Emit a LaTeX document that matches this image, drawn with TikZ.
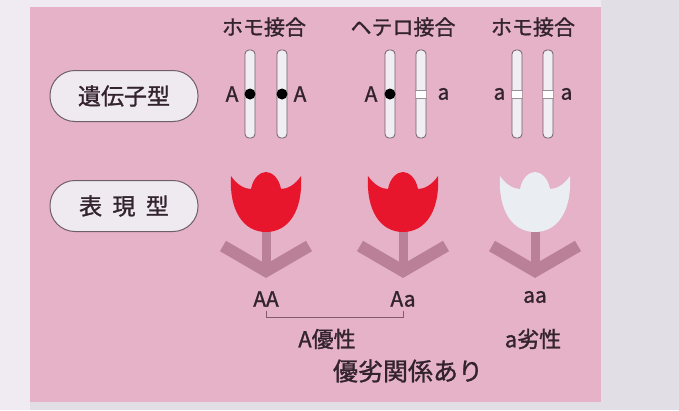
\documentclass[tikz,border=0pt]{standalone}
\usepackage{fontspec}
\setmainfont{Noto Sans CJK JP}[FakeBold=1.2]
\usetikzlibrary{positioning}

\definecolor{pagegrey}{RGB}{226,222,230}
\definecolor{sidewhite}{RGB}{240,235,242}
\definecolor{bgpink}{RGB}{229,178,200}
\definecolor{inkdark}{RGB}{50,35,45}
\definecolor{chromfill}{RGB}{240,238,242}
\definecolor{chromline}{RGB}{110,95,105}
\definecolor{tulipred}{RGB}{232,22,45}
\definecolor{tulipwhite}{RGB}{234,238,242}
\definecolor{stemmauve}{RGB}{186,128,152}
\definecolor{boxfill}{RGB}{238,234,240}

\begin{document}
\begin{tikzpicture}[x=1pt,y=-1pt,
  every node/.style={text=inkdark},
  head/.style={font=\fontsize{21}{21}\selectfont},
  allele/.style={font=\fontsize{21}{21}\selectfont,inner sep=1pt},
  tag/.style={draw=chromline,line width=1pt,fill=boxfill,rounded corners=25pt,
    minimum width=148pt,minimum height=51pt,font=\fontsize{23}{23}\selectfont},
  chrom/.style={draw=chromline,line width=0.8pt,fill=chromfill,rounded corners=4pt,
    minimum width=10pt,minimum height=88pt,inner sep=0pt},
  dom/.style={fill=black,circle,minimum size=11pt,inner sep=0pt},
  rec/.style={draw=chromline!70,line width=0.6pt},
  leaf/.style={draw=stemmauve,line width=12pt,line join=miter},
  bracket/.style={draw=stemmauve!70!black,line width=0.8pt}]

  % page and pink panel
  \fill[pagegrey] (0,0) rectangle (679,410);
  \fill[sidewhite] (0,0) rectangle (30,410);
  \fill[sidewhite] (30,0) rectangle (601,7);
  \fill[bgpink] (30,7) rectangle (601,402);

  % column heads
  \node[head] (homoL)  at (264,27) {ホモ接合};
  \node[head] (hetero) at (403,27) {ヘテロ接合};
  \node[head] (homoR)  at (533,27) {ホモ接合};

  % row tags
  \node[tag] (genotype)  at (124,96)  {遺伝子型};
  \node[tag] (phenotype) at (124,206) {表\hspace{0.45em}現\hspace{0.45em}型};

  % chromosome pairs
  \node[chrom] (c1) at (250,94) {};
  \node[chrom] (c2) at (282,94) {};
  \node[chrom] (c3) at (390,94) {};
  \node[chrom] (c4) at (421,94) {};
  \node[chrom] (c5) at (517,94) {};
  \node[chrom] (c6) at (548,94) {};

  % dominant loci
  \node[dom] at (c1) {};
  \node[dom] at (c2) {};
  \node[dom] at (c3) {};

  % recessive loci
  \foreach \c in {c4,c5,c6}{
    \fill[white] (\c.west) ++(0,-4) rectangle ++(10,8);
    \draw[rec] (\c.west) ++(-1,-4) -- ++(12,0) ++(0,8) -- ++(-12,0);
  }

  \node[allele,left=5pt of c1]   (l1) {A};
  \node[allele,right=5pt of c2]  (l2) {A};
  \node[allele,left=6pt of c3]   (l3) {A};
  \node[allele,right=10pt of c4] (l4) {a};
  \node[allele,left=5pt of c5]   (l5) {a};
  \node[allele,right=6pt of c6]  (l6) {a};

  % tulips
  \foreach \x/\petal in {266/tulipred,403/tulipred,535/tulipwhite}{
    \begin{scope}[shift={(\x,172)}]
      \draw[leaf] (-43,74) -- (0,99) -- (43,74);
      \draw[stemmauve,line width=9pt] (0,58) -- (0,95);
      \fill[\petal] (-35,4) .. controls (-37,38) and (-23,60) .. (0,60)
        .. controls (23,60) and (37,38) .. (35,4)
        .. controls (29,13) and (21,17) .. (15,17)
        .. controls (13,6) and (6,0) .. (0,0)
        .. controls (-6,0) and (-13,6) .. (-15,17)
        .. controls (-21,17) and (-29,13) .. (-35,4) -- cycle;
    \end{scope}
  }

  \node[allele] (AA) at (266,299) {AA};
  \node[allele] (Aa) at (403,299) {Aa};
  \node[allele] (aa) at (535,297) {aa};
  \draw[bracket] ([yshift=-3pt]AA.south) -- ++(0,6) -| ([yshift=-3pt]Aa.south);

  \node[allele,font=\fontsize{22}{22}\selectfont] (dominant)  at (327,339) {A優性};
  \node[allele,font=\fontsize{22}{22}\selectfont] (recessive) at (533,339) {a劣性};
  \node[head,font=\fontsize{25}{25}\selectfont]   (relation)  at (408,371) {優劣関係あり};
\end{tikzpicture}
\end{document}
